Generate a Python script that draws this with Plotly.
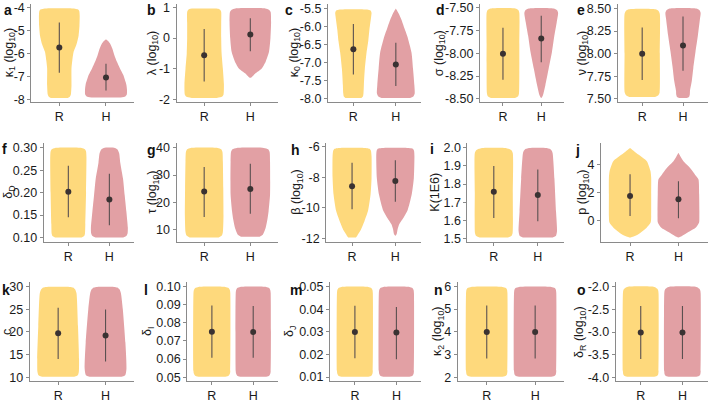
import plotly.graph_objects as go

# ---------------- data ----------------
GROUPS = ["R", "H"]
PANEL_LETTERS = list("abcdefghijklmno")
Y_TITLES = [
    "κ<sub>1</sub> (log<sub>10</sub>)", "λ (log<sub>10</sub>)", "κ<sub>0</sub> (log<sub>10</sub>)",
    "σ (log<sub>10</sub>)", "ν (log<sub>10</sub>)",
    "δ<sub>D</sub>", "τ (log<sub>10</sub>)", "β (log<sub>10</sub>)", "K(1E6)", "p (log<sub>10</sub>)",
    "c", "δ<sub>I</sub>", "δ<sub>J</sub>", "κ<sub>2</sub> (log<sub>10</sub>)", "δ<sub>R</sub> (log<sub>10</sub>)",
]
TICK_TEXT = [
    ["-8", "-7", "-6", "-5", "-4"],
    ["-2", "-1", "0", "1"],
    ["-8.0", "-7.5", "-7.0", "-6.5", "-6.0", "-5.5"],
    ["-8.50", "-8.25", "-8.00", "-7.75", "-7.50"],
    ["7.50", "7.75", "8.00", "8.25", "8.50"],
    ["0.10", "0.15", "0.20", "0.25", "0.30"],
    ["10", "20", "30", "40"],
    ["-12", "-10", "-8", "-6"],
    ["1.5", "1.6", "1.7", "1.8", "1.9", "2.0"],
    ["0", "2", "4"],
    ["10", "15", "20", "25", "30"],
    ["0.05", "0.06", "0.07", "0.08", "0.09", "0.10"],
    ["0.01", "0.02", "0.03", "0.04", "0.05"],
    ["2", "3", "4", "5", "6"],
    ["-4.0", "-3.5", "-3.0", "-2.5", "-2.0"],
]

# violin density profiles: (value, relative density 0..1)
A_R = [(-7.95, 0.40), (-7.90, 0.50), (-7.80, 0.55), (-7.40, 0.58), (-6.65, 0.58), (-6.30, 0.62), (-5.94, 0.68),
       (-5.60, 0.82), (-5.22, 0.92), (-4.80, 0.96), (-4.36, 0.97), (-4.15, 0.95), (-4.08, 0.88), (-4.04, 0.70)]
A_H = [(-7.93, 0.70), (-7.88, 0.92), (-7.80, 0.99), (-7.60, 1.00), (-7.37, 0.97), (-6.94, 0.82), (-6.65, 0.66),
       (-6.37, 0.52), (-6.08, 0.40), (-5.79, 0.30), (-5.58, 0.20), (-5.45, 0.09), (-5.38, 0.00)]
B_R = [(-1.96, 0.60), (-1.92, 0.85), (-1.85, 0.93), (-1.50, 0.95), (-1.00, 0.90), (-0.50, 0.84), (0.00, 0.82),
       (0.50, 0.82), (0.85, 0.82), (0.92, 0.78), (0.96, 0.68), (0.97, 0.50)]
B_H = [(-1.30, 0.00), (-1.22, 0.15), (-1.15, 0.25), (-1.00, 0.54), (-0.77, 0.74), (-0.45, 0.90), (0.00, 0.97),
       (0.50, 1.00), (0.85, 0.98), (0.93, 0.90), (0.97, 0.72)]
C_R = [(-7.98, 0.42), (-7.94, 0.50), (-7.85, 0.53), (-7.62, 0.55), (-7.17, 0.60), (-6.72, 0.69), (-6.40, 0.78),
       (-6.09, 0.84), (-5.73, 0.93), (-5.62, 0.95), (-5.56, 0.90), (-5.53, 0.72)]
C_H = [(-7.98, 0.75), (-7.93, 0.93), (-7.85, 0.99), (-7.62, 0.97), (-7.17, 0.90), (-6.72, 0.82), (-6.27, 0.60),
       (-6.05, 0.45), (-5.82, 0.30), (-5.64, 0.15), (-5.50, 0.00)]
D_R = [(-8.49, 0.70), (-8.47, 0.88), (-8.44, 0.93), (-8.20, 0.95), (-7.90, 0.95), (-7.56, 0.95), (-7.53, 0.90),
       (-7.51, 0.72)]
D_H = [(-8.49, 0.00), (-8.46, 0.10), (-8.35, 0.24), (-8.17, 0.43), (-7.99, 0.62), (-7.81, 0.76), (-7.66, 0.90),
       (-7.56, 0.98), (-7.53, 0.92), (-7.51, 0.72)]
E_R = [(7.52, 0.70), (7.54, 0.88), (7.57, 0.95), (8.00, 0.96), (8.44, 0.96), (8.47, 0.90), (8.49, 0.72)]
E_H = [(7.51, 0.20), (7.52, 0.32), (7.55, 0.37), (7.59, 0.38), (7.70, 0.48), (7.84, 0.56), (8.02, 0.68),
       (8.20, 0.81), (8.38, 0.92), (8.45, 0.96), (8.48, 0.90), (8.50, 0.72)]
F_R = [(0.100, 0.72), (0.103, 0.86), (0.108, 0.90), (0.130, 0.92), (0.200, 0.96), (0.280, 0.98), (0.292, 0.96),
       (0.297, 0.90), (0.300, 0.72)]
F_H = [(0.100, 0.75), (0.104, 0.93), (0.110, 0.99), (0.122, 1.00), (0.158, 0.92), (0.194, 0.83), (0.231, 0.74),
       (0.267, 0.59), (0.288, 0.53), (0.296, 0.45), (0.300, 0.30)]
G_R = [(7.0, 0.70), (7.7, 0.85), (9.0, 0.90), (15.0, 0.93), (25.0, 0.92), (35.0, 0.90), (38.5, 0.88),
       (39.5, 0.82), (40.0, 0.65)]
G_H = [(7.3, 0.45), (8.0, 0.60), (10.6, 0.74), (13.5, 0.82), (16.7, 0.88), (22.7, 0.95), (34.9, 0.95),
       (38.5, 0.93), (39.5, 0.86), (40.0, 0.65)]
H_R = [(-11.95, 0.20), (-11.85, 0.26), (-11.50, 0.43), (-10.86, 0.64), (-10.20, 0.82), (-9.13, 0.95),
       (-8.05, 1.00), (-6.60, 1.00), (-6.25, 0.97), (-6.12, 0.90), (-6.06, 0.70)]
H_H = [(-11.85, 0.00), (-11.73, 0.07), (-11.40, 0.12), (-11.08, 0.20), (-10.65, 0.42), (-10.20, 0.62),
       (-9.13, 0.84), (-8.05, 0.95), (-6.60, 0.98), (-6.25, 0.96), (-6.12, 0.90), (-6.06, 0.70)]
I_R = [(1.505, 0.72), (1.515, 0.90), (1.530, 0.95), (1.750, 0.96), (1.970, 0.96), (1.985, 0.90), (1.995, 0.75),
       (2.000, 0.60)]
I_H = [(1.505, 0.75), (1.515, 0.92), (1.540, 0.97), (1.650, 0.92), (1.830, 0.84), (1.970, 0.75), (1.985, 0.70),
       (1.995, 0.60), (2.000, 0.45)]
J_R = [(-1.18, 0.00), (-0.95, 0.38), (-0.47, 0.77), (-0.10, 0.95), (0.30, 0.97), (1.88, 0.97), (3.06, 0.97),
       (3.53, 0.94), (4.24, 0.77), (4.71, 0.38), (5.18, 0.00)]
J_H = [(-1.18, 0.00), (-0.83, 0.42), (-0.47, 0.80), (-0.10, 0.95), (0.24, 0.96), (0.71, 0.96), (1.88, 0.95),
       (2.94, 0.92), (3.20, 0.80), (3.53, 0.65), (3.90, 0.45), (4.24, 0.23), (4.55, 0.10), (4.83, 0.00)]
K_R = [(10.15, 0.75), (10.5, 0.92), (11.3, 0.97), (14.1, 0.98), (21.3, 0.93), (28.5, 0.86), (29.3, 0.80),
       (29.75, 0.70), (29.9, 0.55)]
K_H = [(10.15, 0.75), (10.5, 0.92), (11.95, 0.98), (17.7, 0.93), (24.95, 0.81), (28.5, 0.72), (29.3, 0.66),
       (29.75, 0.55), (29.9, 0.40)]
L_R = [(0.0502, 0.72), (0.0508, 0.90), (0.0520, 0.97), (0.0535, 0.99), (0.0965, 0.99), (0.0980, 0.97),
       (0.0992, 0.90), (0.0998, 0.72)]
L_H = [(0.0502, 0.70), (0.0508, 0.86), (0.0520, 0.92), (0.0535, 0.94), (0.0965, 0.94), (0.0980, 0.92),
       (0.0992, 0.86), (0.0998, 0.70)]
M_R = [(0.0101, 0.72), (0.0106, 0.88), (0.0115, 0.94), (0.0128, 0.96), (0.0472, 0.96), (0.0485, 0.94),
       (0.0494, 0.88), (0.0499, 0.72)]
M_H = [(0.0101, 0.70), (0.0106, 0.86), (0.0115, 0.92), (0.0128, 0.94), (0.0472, 0.94), (0.0485, 0.92),
       (0.0494, 0.86), (0.0499, 0.70)]
N_R = [(2.03, 0.72), (2.08, 0.88), (2.15, 0.93), (2.30, 0.95), (5.70, 0.95), (5.85, 0.93), (5.92, 0.88),
       (5.97, 0.72)]
N_H = [(2.03, 0.74), (2.08, 0.90), (2.15, 0.95), (2.30, 0.97), (5.70, 0.97), (5.85, 0.95), (5.92, 0.90),
       (5.97, 0.74)]
O_R = [(-3.98, 0.72), (-3.955, 0.88), (-3.92, 0.93), (-3.85, 0.95), (-2.16, 0.95), (-2.09, 0.93), (-2.05, 0.88),
       (-2.01, 0.72)]
O_H = [(-3.98, 0.74), (-3.955, 0.90), (-3.92, 0.95), (-3.85, 0.97), (-2.16, 0.97), (-2.09, 0.95), (-2.05, 0.90),
       (-2.01, 0.74)]

PROFILES_R = [A_R, B_R, C_R, D_R, E_R, F_R, G_R, H_R, I_R, J_R, K_R, L_R, M_R, N_R, O_R]
PROFILES_H = [A_H, B_H, C_H, D_H, E_H, F_H, G_H, H_H, I_H, J_H, K_H, L_H, M_H, N_H, O_H]

MEAN_R = [-5.75, -0.56, -6.63, -8.006, 8.00, 0.202, 23.9, -8.59, 1.757, 1.77, 19.75, 0.0751, 0.0300, 3.99, -3.01]
LO_R = [-6.85, -1.42, -7.33, -8.29, 7.71, 0.145, 14.5, -10.10, 1.613, 0.35, 14.1, 0.0607, 0.0183, 2.83, -3.59]
HI_R = [-4.65, 0.30, -5.93, -7.72, 8.29, 0.260, 33.0, -7.04, 1.900, 3.30, 25.3, 0.0895, 0.0416, 5.16, -2.43]
MEAN_H = [-7.05, 0.12, -7.05, -7.84, 8.09, 0.185, 24.9, -8.23, 1.739, 1.53, 19.25, 0.0750, 0.0297, 4.00, -3.01]
LO_H = [-7.62, -0.43, -7.65, -8.10, 7.81, 0.127, 15.7, -9.60, 1.595, 0.18, 13.5, 0.0607, 0.0179, 2.83, -3.59]
HI_H = [-6.45, 0.65, -6.45, -7.59, 8.41, 0.242, 34.2, -6.87, 1.880, 2.82, 24.95, 0.0892, 0.0410, 5.16, -2.43]

# ---------------- layout / style ----------------
W, H = 708, 403
FONT = "Liberation Sans, Arial, sans-serif"
COLORS = {"R": "#FED97C", "H": "#E2A0A4"}
AXIS_COLOR = "#8a8a8a"
HALF = 0.45
COL_RIGHT = [134.0, 278.0, 421.3, 564.2, 707.5]
AXIS_LEFT = [31.3, 176.5, 327.9, 480.0, 617.7, 43.7, 176.5, 326.1, 467.4, 601.0, 29.7, 187.1, 330.0, 457.7, 615.7]
ROW_TOP = [1.0, 144.0, 286.5]
ROW_BOTTOM = [102.0, 245.0, 388.0]
TITLE_X = [10, 153, 295, 440, 583, 9, 153, 297, 435, 583, 7, 148, 290, 438, 580]
LETTER_X = [2, 145, 283, 434, 575, 0, 145, 289, 428, 573, 0, 142, 288, 432, 575]
LETTER_Y = [7, 7, 7, 7, 7, 150, 151, 151, 150, 151, 294, 294, 294, 294, 294]

fig = go.Figure()
annotations = []
layout = {}

for i in range(15):
    r, c = divmod(i, 5)
    k = "" if i == 0 else str(i + 1)
    xa, ya = "x" + k, "y" + k
    all_y = []
    for g, (grp, prof) in enumerate(zip(GROUPS, [PROFILES_R[i], PROFILES_H[i]])):
        pos = g + 1
        ys = [p[0] for p in prof]
        ds = [p[1] for p in prof]
        all_y += ys
        xs = [pos + HALF * d for d in ds] + [pos - HALF * d for d in reversed(ds)]
        yy = ys + ys[::-1]
        fig.add_trace(go.Scatter(x=xs, y=yy, mode="lines", fill="toself", fillcolor=COLORS[grp],
                                 line=dict(width=0, color=COLORS[grp], shape="spline", smoothing=0.6),
                                 hoverinfo="skip", showlegend=False, xaxis=xa, yaxis=ya))
    for g, (m, lo, hi) in enumerate([(MEAN_R[i], LO_R[i], HI_R[i]), (MEAN_H[i], LO_H[i], HI_H[i])]):
        pos = g + 1
        fig.add_trace(go.Scatter(x=[pos, pos], y=[lo, hi], mode="lines",
                                 line=dict(color="#5a5050", width=1.1), showlegend=False,
                                 hoverinfo="skip", xaxis=xa, yaxis=ya))
        fig.add_trace(go.Scatter(x=[pos], y=[m], mode="markers",
                                 marker=dict(color="#3a3232", size=6), showlegend=False,
                                 xaxis=xa, yaxis=ya))
    lo_v, hi_v = min(all_y), max(all_y)
    pad = 0.05 * (hi_v - lo_v)
    tv = [float(t) for t in TICK_TEXT[i]]
    axis_common = dict(showline=True, linecolor=AXIS_COLOR, linewidth=1, ticks="outside", ticklen=3,
                       tickcolor=AXIS_COLOR, tickwidth=1, showgrid=False, zeroline=False,
                       tickfont=dict(size=12.5, color="#1a1a1a", family=FONT), fixedrange=True)
    layout["xaxis" + k] = dict(axis_common, domain=[AXIS_LEFT[i] / W, COL_RIGHT[c] / W], range=[0.4, 2.6],
                               tickvals=[1, 2], ticktext=GROUPS, anchor=ya, ticklabelstandoff=0)
    layout["yaxis" + k] = dict(axis_common, domain=[1 - ROW_BOTTOM[r] / H, 1 - ROW_TOP[r] / H],
                               range=[lo_v - pad, hi_v + pad], tickvals=tv, ticktext=TICK_TEXT[i],
                               anchor=xa, ticklabelstandoff=0)
    annotations.append(dict(text=Y_TITLES[i], x=TITLE_X[i] / W, y=1 - (ROW_TOP[r] + ROW_BOTTOM[r]) / 2 / H,
                            xref="paper", yref="paper", textangle=-90, showarrow=False,
                            xanchor="center", yanchor="middle",
                            font=dict(size=12.5, color="#1a1a1a", family=FONT)))
    annotations.append(dict(text="<b>" + PANEL_LETTERS[i] + "</b>", x=LETTER_X[i] / W, y=1 - LETTER_Y[i] / H,
                            xref="paper", yref="paper", showarrow=False, xanchor="left", yanchor="middle",
                            font=dict(size=14, color="#111111", family=FONT)))

fig.update_layout(width=W, height=H, margin=dict(l=0, r=0, t=0, b=0), plot_bgcolor="white",
                  paper_bgcolor="white", annotations=annotations, font=dict(family=FONT), **layout)
fig.write_html("out.html", config={"displayModeBar": False},
               post_script="document.body.style.margin='0px';")
